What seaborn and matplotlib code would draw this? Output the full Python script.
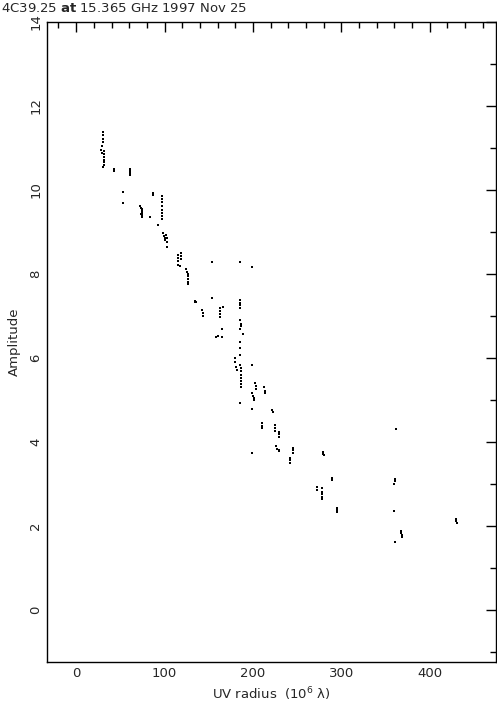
import pandas as pd
import matplotlib.pyplot as plt
from matplotlib.ticker import MultipleLocator
import seaborn as sns

# Visibility amplitudes (UV radius in 10^6 lambda)
uv_radius = [
    30, 30, 30, 30, 29, 28.5, 29, 31, 31, 31, 31, 31, 31, 30.5,
    43, 43, 61, 61, 61, 61, 53, 53,
    72, 73, 74, 75, 75, 75, 75, 73, 84, 87, 87,
    97, 97, 97, 97, 97, 97, 97, 97, 93,
    98, 99, 100, 101, 102, 103, 103, 103,
    115, 115, 115, 115, 117, 119, 119, 119,
    124, 125, 126, 127, 126, 126, 126,
    154, 185, 199, 135, 134, 136, 154,
    142, 143, 144, 163, 163, 163, 163, 166,
    165, 158, 160, 165,
    185, 185, 185, 185, 185, 186, 187, 185,
    189, 185, 185, 185, 180, 180, 181, 182,
    185, 186, 186, 186, 186, 186, 186, 186, 199, 185,
    202, 204, 203, 212, 214, 214, 199, 200, 201, 201,
    199, 222, 223, 210, 210, 210, 225, 225, 225, 230, 230, 230,
    199, 226, 227, 229, 230, 245, 245, 245, 242, 242, 242,
    362, 279, 279, 280, 289, 289, 361, 361, 360,
    272, 272, 278, 278, 278, 278, 278, 295, 295, 295, 360,
    430, 430, 431, 367, 368, 369, 369, 361,
]
amplitude = [
    11.38, 11.30, 11.22, 11.14, 11.05, 10.95, 10.88, 10.92, 10.85, 10.78, 10.72, 10.66, 10.60, 10.55,
    10.50, 10.45, 10.50, 10.45, 10.40, 10.35, 9.95, 9.70,
    9.62, 9.58, 9.55, 9.50, 9.45, 9.40, 9.35, 9.42, 9.36, 9.92, 9.88,
    9.85, 9.78, 9.72, 9.62, 9.52, 9.45, 9.38, 9.30, 9.17,
    8.97, 8.90, 8.85, 8.80, 8.92, 8.85, 8.75, 8.65,
    8.45, 8.38, 8.30, 8.22, 8.20, 8.50, 8.42, 8.35,
    8.12, 8.05, 8.00, 7.95, 7.88, 7.82, 7.76,
    8.29, 8.29, 8.17, 7.35, 7.33, 7.33, 7.43,
    7.14, 7.08, 7.00, 7.20, 7.12, 7.05, 6.98, 7.22,
    6.70, 6.50, 6.52, 6.50,
    7.38, 7.32, 7.26, 7.19, 6.90, 6.82, 6.75, 6.70,
    6.57, 6.38, 6.24, 6.07, 6.00, 5.90, 5.78, 5.71,
    5.83, 5.75, 5.68, 5.60, 5.52, 5.45, 5.38, 5.31, 5.83, 4.93,
    5.40, 5.33, 5.26, 5.30, 5.22, 5.17, 5.17, 5.10, 5.05, 5.00,
    4.79, 4.76, 4.72, 4.45, 4.39, 4.33, 4.40, 4.33, 4.26, 4.24, 4.18, 4.12,
    3.74, 3.90, 3.84, 3.78, 3.80, 3.86, 3.80, 3.74, 3.62, 3.56, 3.50,
    4.31, 3.76, 3.72, 3.69, 3.14, 3.10, 3.12, 3.06, 3.00,
    2.93, 2.86, 2.90, 2.82, 2.75, 2.68, 2.64, 2.43, 2.38, 2.33, 2.36,
    2.17, 2.12, 2.07, 1.88, 1.82, 1.78, 1.74, 1.62,
]

df = pd.DataFrame({'uv': uv_radius, 'amp': amplitude})

sns.set_style('white')
plt.rcParams['font.family'] = ['DejaVu Sans']

fig = plt.figure(figsize=(4.97, 7.04), dpi=100)
ax = fig.add_axes([47 / 497, 42 / 704, 449 / 497, 640 / 704])

sns.scatterplot(data=df, x='uv', y='amp', ax=ax, color='black', marker='s',
                s=0.9, linewidth=0)

ax.set_xlim(-33, 475)
ax.set_ylim(-1.24, 14)
ax.xaxis.set_major_locator(MultipleLocator(100))
ax.xaxis.set_minor_locator(MultipleLocator(20))
ax.yaxis.set_major_locator(MultipleLocator(2))
ax.yaxis.set_minor_locator(MultipleLocator(1))
ax.tick_params(which='both', direction='in', top=True, right=True,
               color='black', width=1, labelsize=9.5)
ax.tick_params(which='major', length=7)
ax.tick_params(which='minor', length=4)
for lbl in ax.get_yticklabels():
    lbl.set_rotation(90)
    lbl.set_va('center')
for sp in ax.spines.values():
    sp.set_color('black')
    sp.set_linewidth(1)

ax.set_xlabel('UV radius  (10$^6$ λ)', fontsize=9.5, labelpad=4)
ax.set_ylabel('Amplitude', fontsize=9.5, labelpad=6)

fig.text(0.002, 0.997, r'4C39.25 $\mathbf{at}$ 15.365 GHz 1997 Nov 25',
         ha='left', va='top', fontsize=9.5)

fig.savefig('out.png', dpi=100)
